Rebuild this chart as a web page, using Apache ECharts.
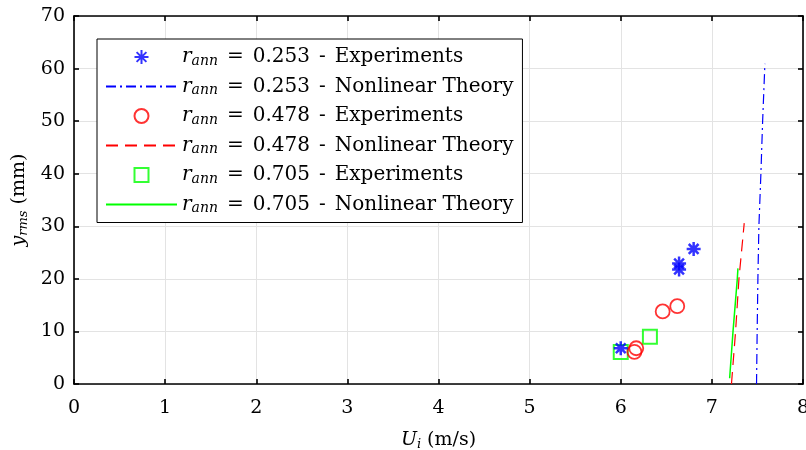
<!DOCTYPE html>
<html>
<head>
<meta charset="utf-8">
<script src="https://cdn.jsdelivr.net/npm/echarts@6/dist/echarts.min.js"></script>
<style>
  html, body { margin: 0; padding: 0; background: #fff; }
  #chart { width: 806px; height: 450px; }
</style>
</head>
<body>
<div id="chart"></div>
<script>
// Annulus ratios and axis ticks
const ratios = ['0.253', '0.478', '0.705'];
const kinds = ['Experiments', 'Nonlinear Theory'];
const xTicks = [0, 1, 2, 3, 4, 5, 6, 7, 8];
const yTicks = [0, 10, 20, 30, 40, 50, 60, 70];

// Experiments: [U_i (m/s), y_rms (mm)]
const exp0253 = [[6.00, 6.8], [6.64, 22.9], [6.64, 21.8], [6.80, 25.7]];
const exp0478 = [[6.17, 6.8], [6.15, 6.1], [6.46, 13.8], [6.62, 14.8]];
const exp0705 = [[6.00, 6.1], [6.32, 9.0]];

// Nonlinear theory curves
const theory0253 = [[7.490, 0], [7.497, 10], [7.505, 20], [7.516, 30], [7.538, 40], [7.557, 50], [7.582, 60.9]];
const theory0478 = [[7.215, 0], [7.260, 10], [7.297, 20], [7.355, 30.6]];
const theory0705 = [[7.195, 1.1], [7.232, 10], [7.279, 20], [7.286, 22.0]];

const BLUE = '#0000ff', RED = '#ff0000', GREEN = '#00ff00';
const FONT = 'DejaVu Serif';
const ASTERISK = 'path://M50,0L50,100M0,50L100,50M15,15L85,85M15,85L85,15';
const SQUARE = 'path://M0,0L100,0L100,100L0,100Z';

// Series names are "ratio|kind"; the legend formatter typesets them
const names = [];
ratios.forEach(function (r) {
  kinds.forEach(function (k) { names.push(r + '|' + k); });
});

const chart = echarts.init(document.getElementById('chart'), null, { renderer: 'canvas' });

const axisRich = {
  i: { fontFamily: FONT, fontStyle: 'italic', fontSize: 19, lineHeight: 22, color: '#000' },
  s: { fontFamily: FONT, fontStyle: 'italic', fontSize: 13, lineHeight: 13, verticalAlign: 'bottom', color: '#000' },
  n: { fontFamily: FONT, fontSize: 19, lineHeight: 22, color: '#000' }
};

const legendRich = {
  i: { fontFamily: FONT, fontStyle: 'italic', fontSize: 20, lineHeight: 22, color: '#000' },
  s: { fontFamily: FONT, fontStyle: 'italic', fontSize: 14, lineHeight: 13, verticalAlign: 'bottom', color: '#000' },
  n: { fontFamily: FONT, fontSize: 20, lineHeight: 22, color: '#000' },
  g: { fontFamily: FONT, fontSize: 20, lineHeight: 22, color: '#000', padding: [0, 9, 0, 9] }
};

function axisCommon(extra) {
  return Object.assign({
    type: 'value',
    axisLine: { show: true, onZero: false, lineStyle: { color: '#000', width: 1.6 } },
    axisTick: { show: true, inside: true, length: 5, lineStyle: { color: '#000', width: 1.6 } },
    splitLine: { show: false },
    axisLabel: { show: false }
  }, extra);
}

// Legend entries: theory lines show only their stroke
const legendData = names.map(function (n, k) {
  return k % 2 === 1 ? { name: n, itemStyle: { opacity: 0 } } : { name: n };
});

const option = {
  backgroundColor: '#fff',
  animation: false,
  grid: { left: 74, right: 3, top: 16, bottom: 66, containLabel: false, outerBoundsMode: 'none' },
  xAxis: [
    axisCommon({
      min: xTicks[0], max: xTicks[xTicks.length - 1], interval: 1, position: 'bottom',
      splitLine: { show: true, lineStyle: { color: '#e3e3e3', width: 1 } },
      axisLabel: { show: true, color: '#000', fontFamily: FONT, fontSize: 19, margin: 15 },
      name: '{i|U}{s|i}{n| (m/s)}',
      nameLocation: 'middle', nameGap: 45,
      nameTextStyle: { rich: axisRich }
    }),
    axisCommon({ min: xTicks[0], max: xTicks[xTicks.length - 1], interval: 1, position: 'top' })
  ],
  yAxis: [
    axisCommon({
      min: yTicks[0], max: yTicks[yTicks.length - 1], interval: 10, position: 'left',
      splitLine: { show: true, lineStyle: { color: '#e3e3e3', width: 1 } },
      axisLabel: { show: true, color: '#000', fontFamily: FONT, fontSize: 19, margin: 9 },
      name: '{i|y}{s|rms}{n| (mm)}',
      nameLocation: 'middle', nameGap: 44,
      nameTextStyle: { rich: axisRich }
    }),
    axisCommon({ min: yTicks[0], max: yTicks[yTicks.length - 1], interval: 10, position: 'right' })
  ],
  legend: {
    orient: 'vertical',
    left: 97, top: 39,
    itemWidth: 71, itemHeight: 14, itemGap: 8.5,
    padding: [8, 9, 7, 8],
    borderColor: '#000', borderWidth: 1,
    backgroundColor: '#fff',
    selectedMode: false,
    data: legendData,
    formatter: function (name) {
      const parts = name.split('|');
      return '{i|r}{s|ann}{g|=}{n|' + parts[0] + '}{g|-}{n|' + parts[1] + '}';
    },
    textStyle: { rich: legendRich }
  },
  series: [
    {
      name: names[0], type: 'scatter', data: exp0253, z: 5,
      symbol: ASTERISK, symbolSize: 14,
      itemStyle: { color: 'transparent', borderColor: BLUE, borderWidth: 2.5 }
    },
    {
      name: names[1], type: 'line', data: theory0253, showSymbol: false, symbol: 'none',
      lineStyle: { color: BLUE, width: 1.2, type: [10, 4, 2, 4] }, itemStyle: { color: BLUE }
    },
    {
      name: names[2], type: 'scatter', data: exp0478, z: 4,
      symbol: 'circle', symbolSize: 14,
      itemStyle: { color: 'transparent', borderColor: RED, borderWidth: 1.8 }
    },
    {
      name: names[3], type: 'line', data: theory0478, showSymbol: false, symbol: 'none',
      lineStyle: { color: RED, width: 1.2, type: [12, 7] }, itemStyle: { color: RED }
    },
    {
      name: names[4], type: 'scatter', data: exp0705, z: 3,
      symbol: SQUARE, symbolSize: 14,
      itemStyle: { color: 'transparent', borderColor: GREEN, borderWidth: 2 }
    },
    {
      name: names[5], type: 'line', data: theory0705, showSymbol: false, symbol: 'none',
      lineStyle: { color: GREEN, width: 1.5, type: 'solid' }, itemStyle: { color: GREEN }
    }
  ]
};

chart.setOption(option);
</script>
</body>
</html>
